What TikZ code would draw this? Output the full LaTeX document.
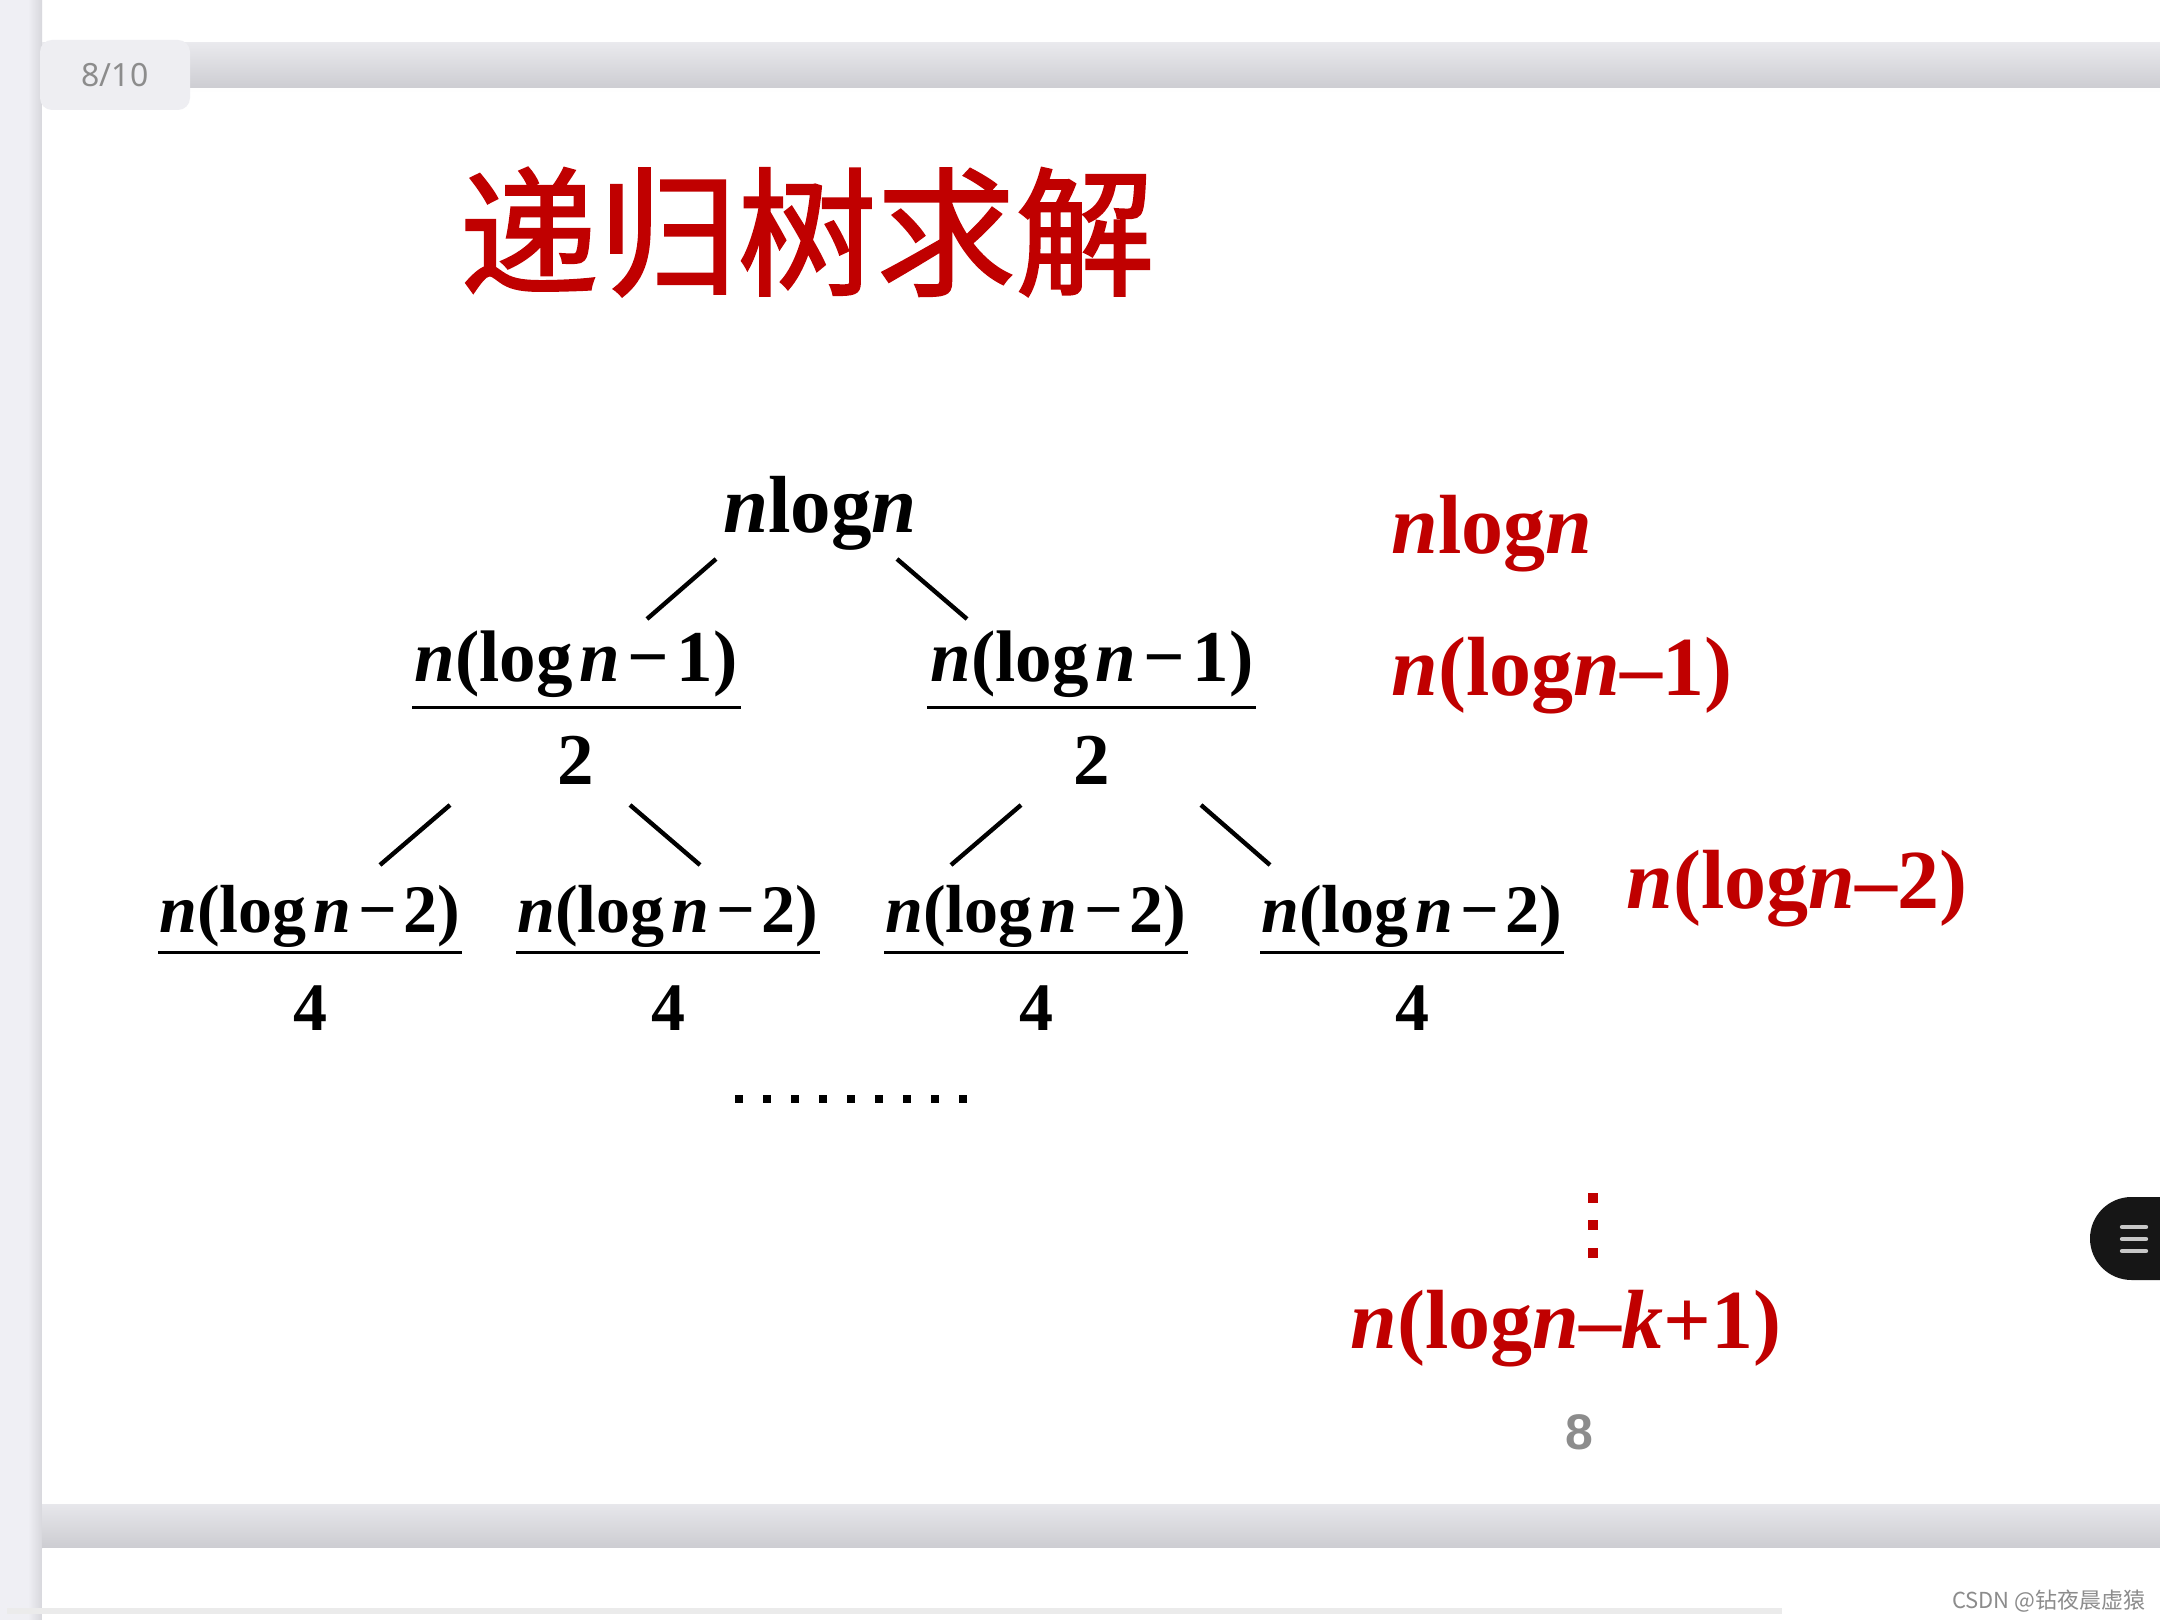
\documentclass[tikz,border=0pt]{standalone}
\usepackage{fontspec}
\setmainfont{Liberation Serif}
\newfontfamily\cjkfont{Noto Sans CJK SC}
\newfontfamily\cjktitle[FakeBold=1.6]{Noto Sans CJK SC}
\newfontfamily\uifont{Noto Sans}
\newfontfamily\numfont{Liberation Sans}
\definecolor{deepred}{HTML}{C00000}
\definecolor{stripgray}{HTML}{EFEFF4}
\definecolor{bandtop}{HTML}{E9E9ED}
\definecolor{bandbot}{HTML}{CDCDD2}
\definecolor{badgegray}{HTML}{EEEEF2}
\definecolor{uigray}{HTML}{8C8C8C}
\definecolor{btnblack}{HTML}{161616}
\newcommand\vn{\textit{n}}
\newcommand\vk{\textit{k}}
\newcommand\gp{\hspace{0.1em}}
\begin{document}
\begin{tikzpicture}[x=0.5pt,y=-0.5pt,
  txt/.style={inner sep=0pt, anchor=base},
  rootfont/.style={font=\bfseries\fontsize{40.5pt}{48pt}\selectfont},
  lvlone/.style={txt, font=\bfseries\fontsize{36.5pt}{44pt}\selectfont},
  lvltwo/.style={txt, font=\bfseries\fontsize{34pt}{40pt}\selectfont},
  redlabel/.style={txt, anchor=base west, text=deepred, font=\bfseries\fontsize{42pt}{48pt}\selectfont},
  edge/.style={line width=2.2pt},
  fracbar/.style={line width=1.5pt},
  dotsq/.style={fill=black},
]
\useasboundingbox (0,0) rectangle (2160,1620);
% ---- page chrome ----
\fill[white] (0,0) rectangle (2160,1620);
\fill[stripgray] (0,0) rectangle (42,1620);
\shade[left color=stripgray, right color=bandbot!70!stripgray] (28,0) rectangle (42,1620);
\shade[top color=bandtop, bottom color=bandbot] (42,43) rectangle (2160,88);
\fill[white!95!bandtop] (42,88) rectangle (2160,92);
\fill[white] (42,92) rectangle (2160,1500);
\shade[top color=bandtop, bottom color=bandbot] (42,1500) rectangle (2160,1547);
\fill[white!95!bandtop] (42,1500) rectangle (2160,1504);
\fill[white] (42,1549) rectangle (2160,1620);
\fill[black!8] (7,1608) rectangle (1782,1614);
% page badge
\node[fill=badgegray, rounded corners=6pt, minimum width=75pt, minimum height=35pt, inner sep=0pt,
      text=uigray, font=\uifont\fontsize{16pt}{18pt}\selectfont] (badge) at (115,75) {8/10};
% side button
\fill[btnblack, rounded corners=20.75pt] (2090,1197) rectangle (2240,1280);
\foreach \yy in {1227,1239,1251}
  \draw[line width=2.2pt, line cap=round, color=black!22] (2122,\yy) -- (2146,\yy);
% watermark
\node[inner sep=0pt, anchor=east, text=black!45, font=\cjkfont\fontsize{11pt}{12pt}\selectfont] (wm) at (2146,1601) {CSDN @钻夜晨虚猿};
% ---- title ----
\node[inner sep=0pt, text=deepred, font=\cjktitle\fontsize{69.5pt}{72pt}\selectfont] (title) at (807,232) {递归树求解};
% ---- tree ----
\node[txt, rootfont] (root) at (820,533) {\vn log\vn};
% level 1
\node[lvlone] (an) at (576,682) {\vn(log\gp\vn\gp−\gp1)};
\node[lvlone] (ad) at (576,785) {2};
\node[lvlone] (bn) at (1092,682) {\vn(log\gp\vn\gp−\gp1)};
\node[lvlone] (bd) at (1092,785) {2};
\coordinate (abarL) at (412,708); \coordinate (abarR) at (741,708);
\coordinate (bbarL) at (927,708); \coordinate (bbarR) at (1256,708);
\draw[fracbar] (abarL) -- (abarR);
\draw[fracbar] (bbarL) -- (bbarR);
% level 2
\foreach \nm/\cx in {c/310, d/668, e/1036, f/1412}{
  \node[lvltwo] (\nm n) at (\cx,933) {\vn(log\gp\vn\gp−\gp2)};
  \node[lvltwo] (\nm d) at (\cx,1030) {4};
  \coordinate (\nm barL) at (\cx-152,953);
  \coordinate (\nm barR) at (\cx+152,953);
  \draw[fracbar] (\nm barL) -- (\nm barR);
}
% connectors
\coordinate (rootL) at (716,559); \coordinate (anTop) at (647,619);
\coordinate (rootR) at (897,559); \coordinate (bnTop) at (967,619);
\coordinate (adL) at (450,805); \coordinate (cnTop) at (380,865);
\coordinate (adR) at (630,805); \coordinate (dnTop) at (700,865);
\coordinate (bdL) at (1021,805); \coordinate (enTop) at (951,865);
\coordinate (bdR) at (1201,805); \coordinate (fnTop) at (1270,865);
\draw[edge] (rootL) -- (anTop);
\draw[edge] (rootR) -- (bnTop);
\draw[edge] (adL) -- (cnTop);
\draw[edge] (adR) -- (dnTop);
\draw[edge] (bdL) -- (enTop);
\draw[edge] (bdR) -- (fnTop);
% horizontal dots
\foreach \i in {0,...,8}
  \fill[dotsq] ({739+28*\i-4},1095) rectangle ++(8,8);
% ---- red column ----
\node[redlabel] (r0) at (1391,554) {\vn log\vn};
\node[redlabel] (r1) at (1391,696) {\vn(log\vn–1)};
\node[redlabel] (r2) at (1626,909) {\vn(log\vn–2)};
\foreach \yy in {1198,1225,1253}
  \fill[deepred] (1588,\yy-5) rectangle ++(10,10);
\node[redlabel] (rk) at (1350,1348) {\vn(log\vn–\vk+1)};
% page number
\node[inner sep=0pt, text=uigray, font=\numfont\bfseries\fontsize{25pt}{28pt}\selectfont] (pg) at (1579,1432) {8};
\end{tikzpicture}
\end{document}
